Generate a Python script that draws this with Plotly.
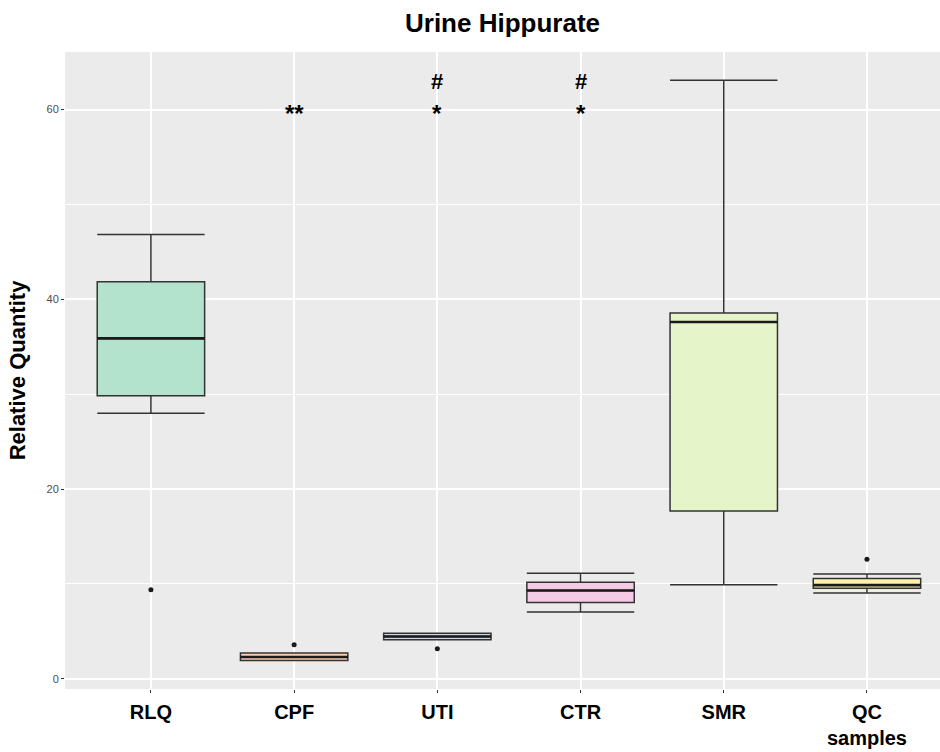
import plotly.graph_objects as go

categories = ["RLQ", "CPF", "UTI", "CTR", "SMR", "QC<br>samples"]
lower_whisker = [27.98, 1.93, 4.11, 7.03, 9.9, 9.03]
q1 = [29.84, 1.93, 4.11, 8.04, 17.69, 9.55]
median = [35.88, 2.3, 4.45, 9.3, 37.6, 9.87]
q3 = [41.84, 2.71, 4.81, 10.18, 38.55, 10.56]
upper_whisker = [46.84, 2.71, 4.81, 11.13, 63.09, 11.03]
outlier_x = [0, 1, 2, 5]
outlier_y = [9.37, 3.58, 3.16, 12.61]
fills = ["#B3E2CD", "#FDCDAC", "#CBD5E8", "#F4CAE4", "#E6F5C9", "#FFF2AE"]
star_labels = ["", "**", "*", "*", "", ""]
hash_labels = ["", "", "#", "#", "", ""]
star_y = 60
hash_y = 63

BOX_W = 0.75
fig = go.Figure()
for i, c in enumerate(categories):
    fig.add_trace(go.Box(
        x=[i], q1=[q1[i]], median=[median[i]], q3=[q3[i]],
        lowerfence=[lower_whisker[i]], upperfence=[upper_whisker[i]],
        fillcolor=fills[i], line=dict(color="#333333", width=1.5),
        whiskerwidth=1, width=BOX_W, boxpoints=False, showlegend=False,
        hoverinfo="skip"))
    fig.add_trace(go.Scatter(
        x=[i - BOX_W / 2, i + BOX_W / 2], y=[median[i], median[i]],
        mode="lines", line=dict(color="#1a1a1a", width=2.6),
        showlegend=False, hoverinfo="skip"))

fig.add_trace(go.Scatter(x=outlier_x, y=outlier_y, mode="markers",
                         marker=dict(color="#1a1a1a", size=5),
                         showlegend=False))

for i in range(len(categories)):
    if star_labels[i]:
        fig.add_annotation(x=i, y=star_y, text="<b>%s</b>" % star_labels[i],
                           showarrow=False, yanchor="middle", yshift=-4,
                           font=dict(size=24, color="black"))
    if hash_labels[i]:
        fig.add_annotation(x=i, y=hash_y, text="<b>%s</b>" % hash_labels[i],
                           showarrow=False, yanchor="middle",
                           font=dict(size=22, color="black"))

fig.update_layout(
    width=940, height=752,
    margin=dict(l=65, r=0, t=52, b=63),
    paper_bgcolor="white", plot_bgcolor="#EBEBEB",
    font=dict(family="Liberation Sans, Arial, sans-serif"),
    title=dict(text="<b>Urine Hippurate</b>", x=0.5, xref="paper",
               xanchor="center", y=1 - 23 / 752, yanchor="middle",
               font=dict(size=26, color="black")),
    showlegend=False,
)
fig.update_xaxes(
    range=[-0.6, 5.51], tickmode="array",
    tickvals=list(range(len(categories))), ticktext=["<b>%s</b>" % c for c in categories],
    tickfont=dict(size=20, color="black"), showgrid=True, gridcolor="white",
    gridwidth=1.8, zeroline=False, ticks="outside", ticklen=3,
    tickcolor="#333333", showline=False, ticklabelstandoff=2, automargin=False)
fig.update_yaxes(
    range=[-1.08, 66.07], tickvals=[0, 20, 40, 60],
    tickfont=dict(size=11, color="#4D4D4D"), showgrid=True, gridcolor="white",
    gridwidth=1.8, zeroline=False, ticks="outside", ticklen=3,
    tickcolor="#333333", automargin=False,
    minor=dict(tickvals=[10, 30, 50], showgrid=True, gridcolor="white",
               gridwidth=0.9, ticks=""),
    title=dict(text="<b>Relative Quantity</b>", font=dict(size=22, color="black"),
               standoff=14))

fig.write_html("out.html")
